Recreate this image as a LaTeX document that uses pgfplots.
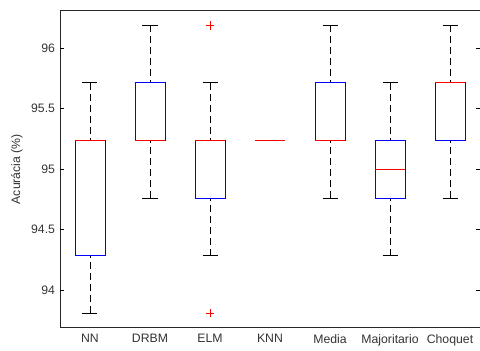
\documentclass[border=0pt]{standalone}
\usepackage{fontspec}
\setmainfont{Liberation Sans}
\usepackage{pgfplots}
\pgfplotsset{compat=1.18}
\definecolor{mblue}{rgb}{0,0,1}
\definecolor{mred}{rgb}{1,0,0}
% #1 = n-1, #2 = n, #3 lower whisker, #4 q1, #5 median, #6 q3, #7 upper whisker
\newcommand\bx[7]{%
  \addplot[black, line width=0.5bp, dash pattern=on 7bp off 4bp] coordinates {(#2,#3) (#2,#4)};
  \addplot[black, line width=0.5bp, dash pattern=on 7bp off 4bp] coordinates {(#2,#7) (#2,#6)};
  \addplot[black, line width=0.7bp] coordinates {(#1.875,#3) (#2.125,#3)};
  \addplot[black, line width=0.7bp] coordinates {(#1.875,#7) (#2.125,#7)};
  \addplot[mblue, line width=0.9bp, line join=miter] coordinates {(#1.75,#4) (#2.25,#4) (#2.25,#6) (#1.75,#6) (#1.75,#4)};
  \addplot[mred, line width=0.9bp] coordinates {(#1.75,#5) (#2.25,#5)};
}
\begin{document}
\begin{tikzpicture}
\begin{axis}[
  at={(0,0)}, anchor=south west,
  scale only axis, width=420bp, height=317bp,
  xmin=0.5, xmax=7.5, ymin=93.689, ymax=96.311,
  clip=false,
  xtick={1,2,3,4,5,6,7},
  xticklabels={NN,DRBM,ELM,KNN,Media,Majoritario,Choquet},
  x tick style={draw=none},
  ytick={94,94.5,95,95.5,96},
  yticklabels={94,94.5,95,95.5,96},
  ytick pos=both,
  tick align=inside,
  major tick length=4bp,
  y tick style={black, line width=0.6bp},
  axis line style={black!85, line width=0.9bp},
  tick label style={font=\fontsize{12.3}{14}\selectfont, text=black!80},
  xticklabel style={yshift=-3bp},
  yticklabel style={xshift=-1.5bp},
  /pgf/number format/assume math mode=true,
  ylabel={Acurácia (\%)},
  ylabel style={font=\fontsize{12.3}{14}\selectfont, text=black!80, at={(axis description cs:-0.1024,0.5)}, anchor=center},
]
% left-side tick marks
\addplot[black, line width=0.6bp] coordinates {(0.5,94) (0.567,94)};
\addplot[black, line width=0.6bp] coordinates {(0.5,94.5) (0.567,94.5)};
\addplot[black, line width=0.6bp] coordinates {(0.5,95) (0.567,95)};
\addplot[black, line width=0.6bp] coordinates {(0.5,95.5) (0.567,95.5)};
\addplot[black, line width=0.6bp] coordinates {(0.5,96) (0.567,96)};
% NN
\bx{0}{1}{93.8095}{94.2857}{95.2381}{95.2381}{95.7143}
% DRBM
\bx{1}{2}{94.7619}{95.2381}{95.2381}{95.7143}{96.1905}
% ELM
\bx{2}{3}{94.2857}{94.7619}{95.2381}{95.2381}{95.7143}
\addplot[only marks, mark=+, mred, mark size=4.3bp, line width=0.6bp] coordinates {(3,96.1905) (3,93.8095)};
% KNN (all quartiles equal)
\addplot[mblue, line width=0.9bp] coordinates {(3.75,95.2381) (4.25,95.2381)};
\addplot[mred, line width=0.9bp] coordinates {(3.75,95.2381) (4.25,95.2381)};
% Media
\bx{4}{5}{94.7619}{95.2381}{95.2381}{95.7143}{96.1905}
% Majoritario
\bx{5}{6}{94.2857}{94.7619}{95.0}{95.2381}{95.7143}
% Choquet
\bx{6}{7}{94.7619}{95.2381}{95.7143}{95.7143}{96.1905}
\end{axis}
\pgfresetboundingbox
\path[use as bounding box] (-60bp,-23.3bp) rectangle (420bp,327.7bp);
\end{tikzpicture}
\end{document}
